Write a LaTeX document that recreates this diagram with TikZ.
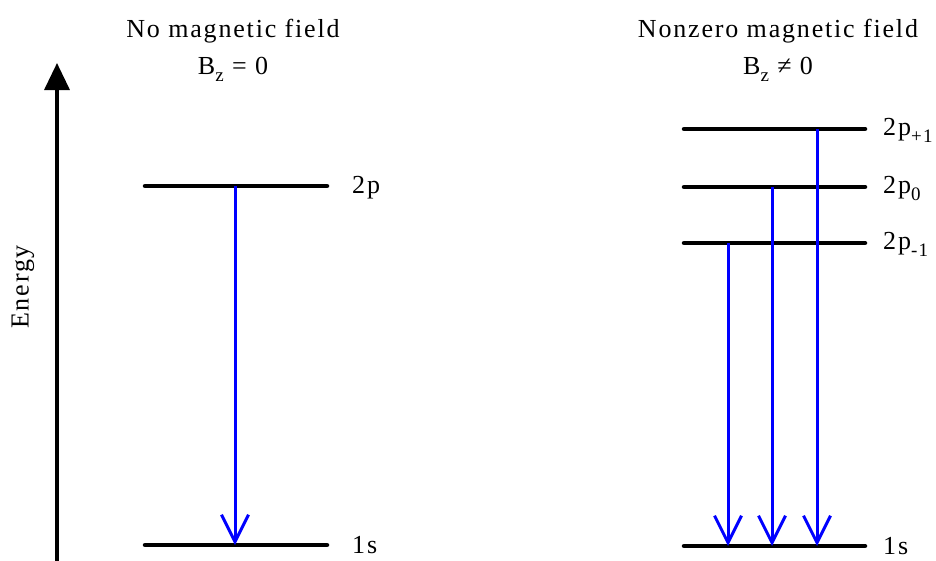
\documentclass[tikz,border=0pt]{standalone}
\usepackage{fontspec}
\setmainfont[LetterSpace=7]{Liberation Serif}
\usetikzlibrary{arrows.meta}
\newcommand{\subx}[1]{\raisebox{-0.3em}{\fontsize{19}{19}\selectfont #1}}
\begin{document}
\begin{tikzpicture}[x=1pt,y=-1pt,
  level/.style={line width=4.5pt, line cap=round},
  trans/.style={blue, line width=3pt, -{Straight Barb[length=27pt,width=27pt,line width=3pt]}},
  axis/.style={line width=3.5pt, -{Triangle[length=27pt,width=25pt]}},
  lbl/.style={anchor=base west, font=\fontsize{26}{28}\selectfont, inner sep=0pt},
  ttl/.style={anchor=base, font=\fontsize{26}{28}\selectfont, inner sep=0pt}]
\useasboundingbox (0,0) rectangle (936,560);
% axis
\coordinate (ax0) at (57,562);
\coordinate (ax1) at (57,63);
\draw[axis] (ax0) -- (ax1);
\node[rotate=90, font=\fontsize{26}{28}\selectfont] (energy) at (23,287) {Energy};
% titles
\node[ttl] (t1) at (233,37) {No magnetic field};
\node[ttl] (t1b) at (233,74) {B\subx{z} = 0};
\node[ttl] (t2) at (778,37) {Nonzero magnetic field};
\node[ttl] (t2b) at (778,74) {B\subx{z} ≠ 0};
% left levels
\coordinate (La1) at (145,186); \coordinate (La2) at (327,186);
\coordinate (Lb1) at (145,545); \coordinate (Lb2) at (327,545);
\draw[level] (La1) -- (La2);
\draw[level] (Lb1) -- (Lb2);
\node[lbl] (l2p) at (352,193) {2p};
\node[lbl] (l1s) at (352,553) {1s};
\coordinate (Ltop) at (235,186); \coordinate (Lbot) at (235,545);
\draw[trans] (Ltop) -- (Lbot);
% right levels
\coordinate (Ra1) at (684,129); \coordinate (Ra2) at (865,129);
\coordinate (Rb1) at (684,187); \coordinate (Rb2) at (865,187);
\coordinate (Rc1) at (684,243); \coordinate (Rc2) at (865,243);
\coordinate (Rd1) at (684,546); \coordinate (Rd2) at (865,546);
\draw[level] (Ra1) -- (Ra2);
\draw[level] (Rb1) -- (Rb2);
\draw[level] (Rc1) -- (Rc2);
\draw[level] (Rd1) -- (Rd2);
\node[lbl] (r2pp) at (883,135) {2p\subx{+1}};
\node[lbl] (r2p0) at (883,193) {2p\subx{0}};
\node[lbl] (r2pm) at (883,249) {2p\subx{-1}};
\node[lbl] (r1s) at (883,554) {1s};
\coordinate (A1t) at (728,243); \coordinate (A1b) at (728,546);
\coordinate (A2t) at (772,187); \coordinate (A2b) at (772,546);
\coordinate (A3t) at (817,129); \coordinate (A3b) at (817,546);
\draw[trans] (A1t) -- (A1b);
\draw[trans] (A2t) -- (A2b);
\draw[trans] (A3t) -- (A3b);
\end{tikzpicture}
\end{document}
